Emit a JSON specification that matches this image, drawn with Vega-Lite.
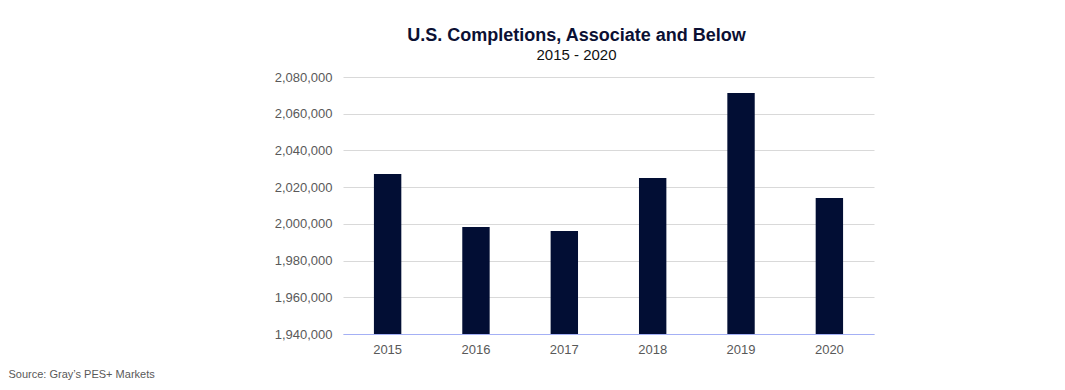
{
  "$schema": "https://vega.github.io/schema/vega-lite/v6.json",
  "width": 531,
  "height": 257,
  "autosize": {"type": "none"},
  "padding": {"left": 343, "top": 77, "right": 191, "bottom": 56},
  "background": "white",
  "title": {
    "text": "U.S. Completions, Associate and Below",
    "subtitle": "2015 - 2020",
    "anchor": "middle",
    "frame": "group",
    "dx": -32,
    "offset": 8,
    "font": "Liberation Sans",
    "fontSize": 18,
    "fontWeight": "bold",
    "color": "#0b1033",
    "subtitleFont": "Liberation Sans",
    "subtitleFontSize": 15,
    "subtitleColor": "#111111",
    "subtitlePadding": 3
  },
  "data": {
    "values": [
      {"year": "2015", "completions": 2027200},
      {"year": "2016", "completions": 1998300},
      {"year": "2017", "completions": 1996100},
      {"year": "2018", "completions": 2025000},
      {"year": "2019", "completions": 2071300},
      {"year": "2020", "completions": 2014100}
    ]
  },
  "mark": {"type": "bar", "color": "#020e34", "clip": true},
  "encoding": {
    "x": {
      "field": "year",
      "type": "ordinal",
      "scale": {"paddingInner": 0.69, "paddingOuter": 0.35},
      "axis": {
        "title": "Source: Gray’s PES+ Markets",
        "titleX": -335,
        "titleY": 43,
        "titleAlign": "left",
        "titleAnchor": "start",
        "titleBaseline": "alphabetic",
        "titleFont": "Liberation Sans",
        "titleFontSize": 11,
        "titleFontWeight": "normal",
        "titleColor": "#595959",
        "labelAngle": 0,
        "labelFont": "Liberation Sans",
        "labelFontSize": 13,
        "labelColor": "#595959",
        "labelPadding": 9,
        "ticks": false,
        "domainColor": "#a4b0f5",
        "domainWidth": 1,
        "grid": false
      }
    },
    "y": {
      "field": "completions",
      "type": "quantitative",
      "scale": {"domain": [1940000, 2080000], "nice": false, "zero": false},
      "axis": {
        "title": null,
        "values": [1940000, 1960000, 1980000, 2000000, 2020000, 2040000, 2060000, 2080000],
        "format": ",.0f",
        "labelFont": "Liberation Sans",
        "labelFontSize": 13,
        "labelColor": "#595959",
        "labelPadding": 11,
        "ticks": false,
        "domain": false,
        "gridColor": "#d9d9d9",
        "gridWidth": 1
      }
    }
  },
  "config": {"view": {"stroke": null}}
}
